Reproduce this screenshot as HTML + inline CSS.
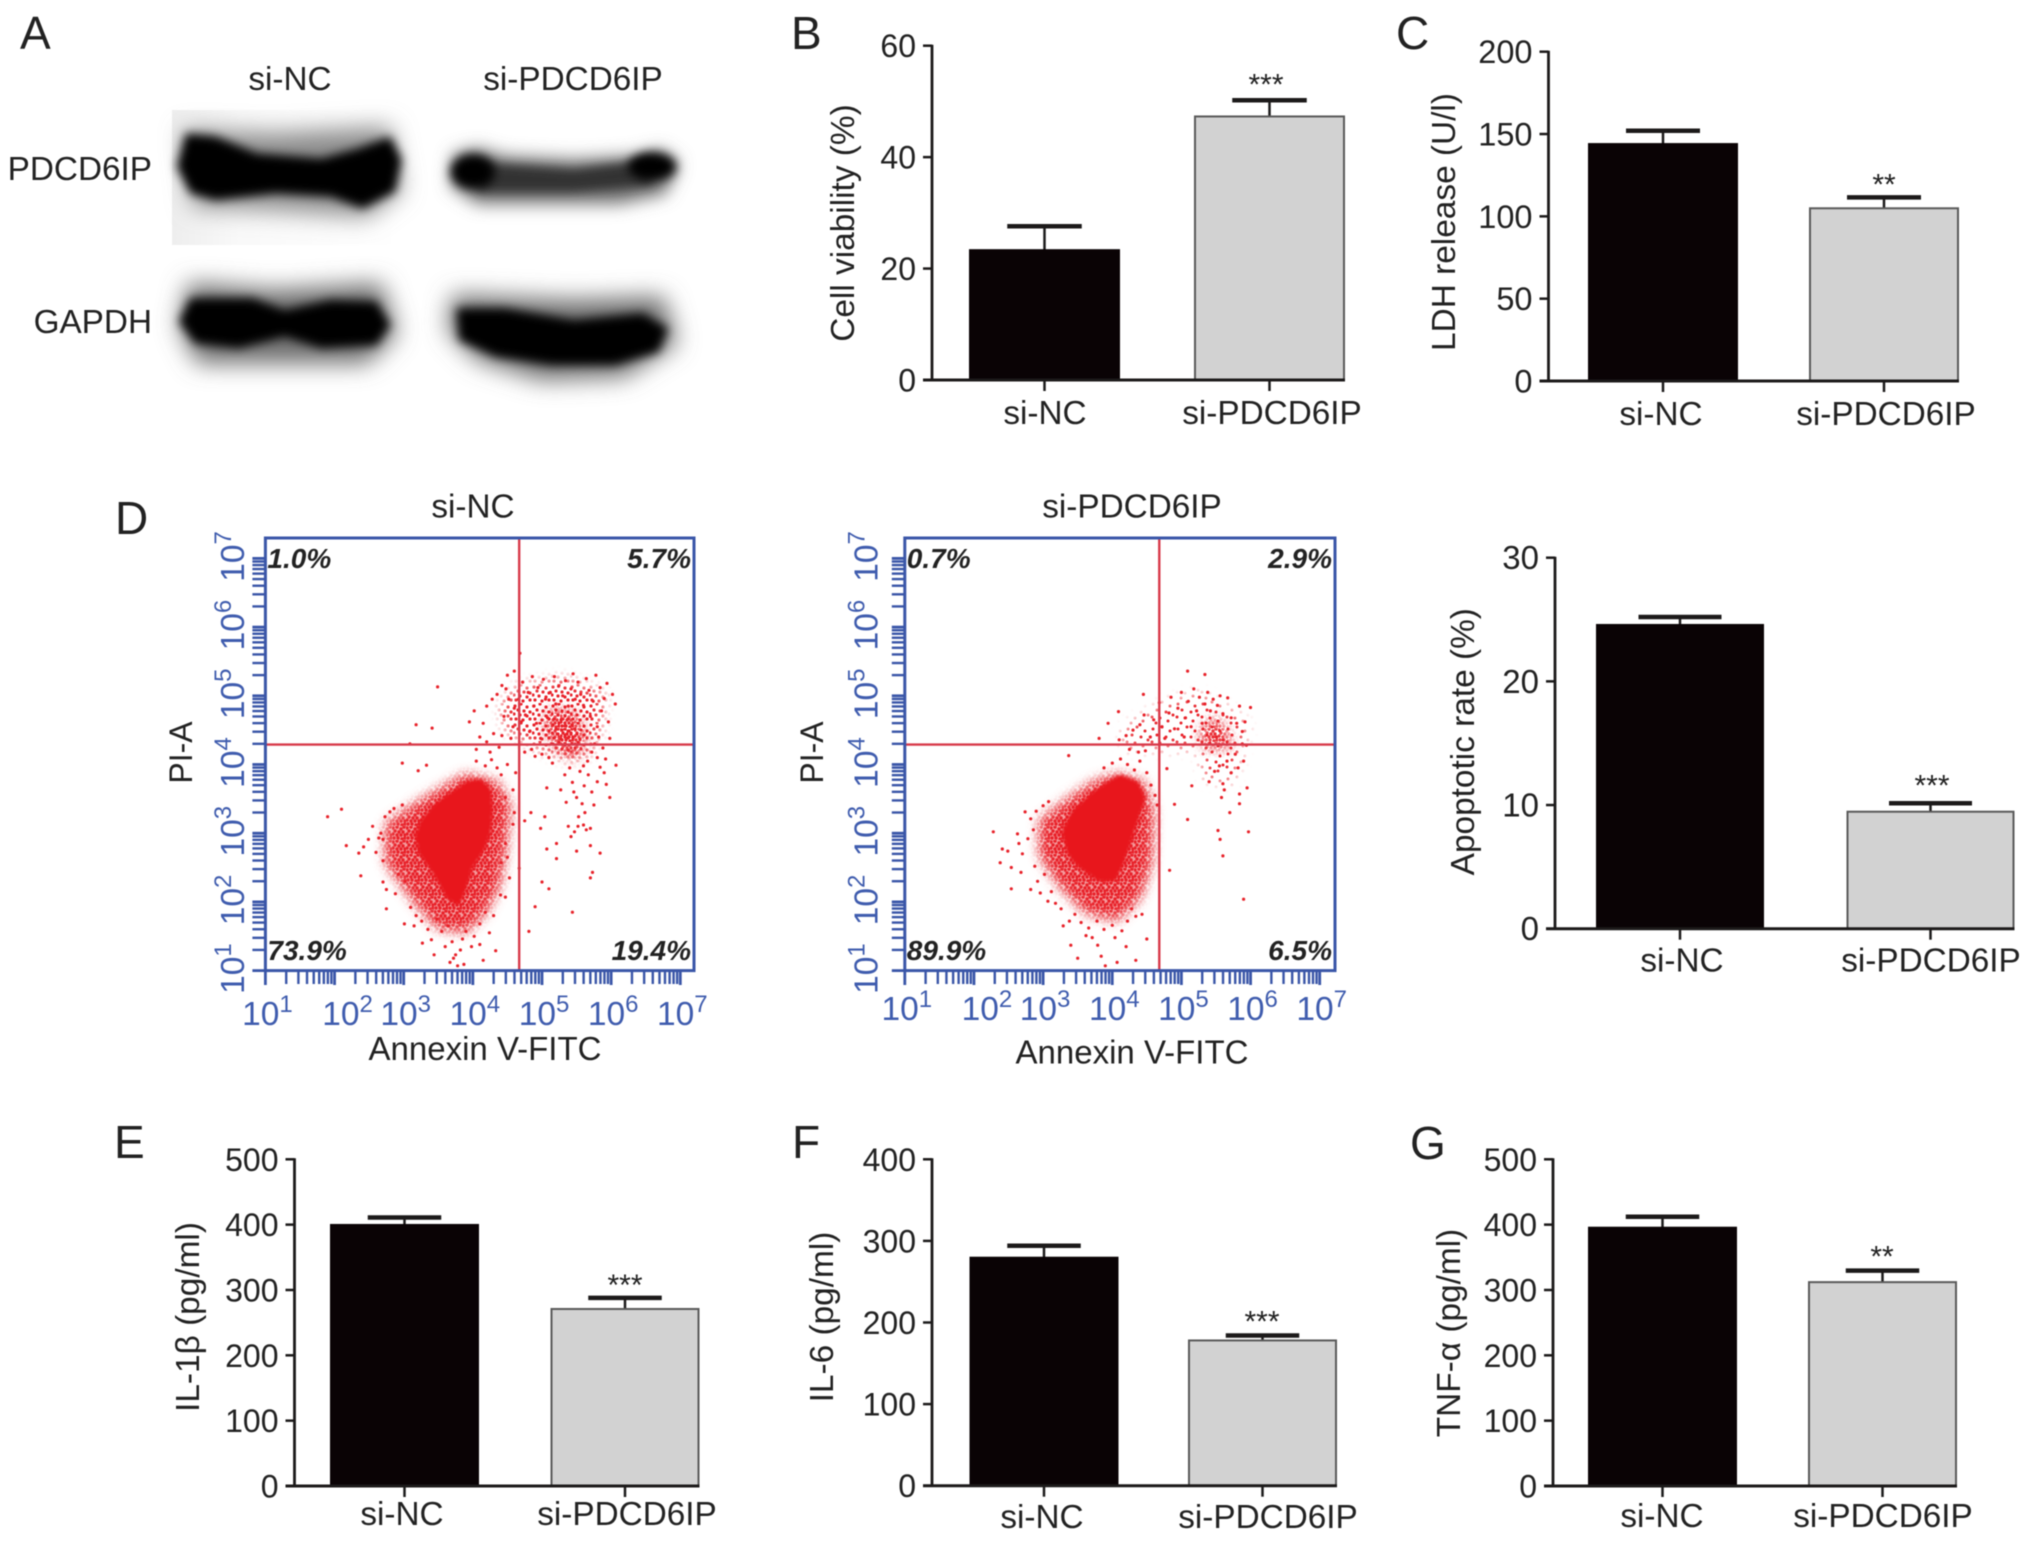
<!DOCTYPE html>
<html lang="en">
<head>
<meta charset="utf-8">
<title>PDCD6IP knockdown figure</title>
<style>
html,body{margin:0;padding:0;background:#fff;}
#figure{display:block;width:2032px;height:1543px;filter:blur(0.5px);}
text{font-family:"Liberation Sans",sans-serif;fill:#222;}
</style>
</head>
<body>
<svg id="figure" xmlns="http://www.w3.org/2000/svg" width="2032" height="1543" viewBox="0 0 2032 1543">
  <defs>
    <filter id="blur-s" x="-30%" y="-60%" width="160%" height="220%"><feGaussianBlur stdDeviation="11 15"/></filter>
    <filter id="blur-m" x="-30%" y="-60%" width="160%" height="220%"><feGaussianBlur stdDeviation="18 26"/></filter>
    <filter id="blur-l" x="-30%" y="-60%" width="160%" height="220%"><feGaussianBlur stdDeviation="26 36"/></filter>
    <filter id="soft-edge" x="-30%" y="-30%" width="160%" height="160%"><feGaussianBlur stdDeviation="6"/></filter>
    <filter id="soft-core" x="-20%" y="-20%" width="140%" height="140%"><feGaussianBlur stdDeviation="1.6"/></filter>
    <linearGradient id="membrane-fade" x1="0" x2="1" y1="0" y2="0">
      <stop offset="0" stop-color="#eeeeee"/>
      <stop offset="0.3" stop-color="#f9f9f9"/>
      <stop offset="1" stop-color="#ffffff"/>
    </linearGradient>
    <pattern id="dots-dense" width="14" height="14" patternUnits="userSpaceOnUse">
      <g fill="#e8222a">
        <circle cx="1" cy="2" r="1.7"/><circle cx="5" cy="1" r="1.7"/><circle cx="9" cy="3" r="1.7"/><circle cx="12" cy="1" r="1.7"/>
        <circle cx="3" cy="5" r="1.7"/><circle cx="7" cy="6" r="1.7"/><circle cx="11" cy="6" r="1.7"/><circle cx="1" cy="8" r="1.7"/>
        <circle cx="5" cy="9" r="1.7"/><circle cx="9" cy="9" r="1.7"/><circle cx="13" cy="9" r="1.7"/><circle cx="2" cy="12" r="1.7"/>
        <circle cx="6" cy="12" r="1.7"/><circle cx="10" cy="13" r="1.7"/><circle cx="13" cy="12" r="1.7"/>
      </g>
    </pattern>
    <pattern id="dots-medium" width="19" height="19" patternUnits="userSpaceOnUse">
      <g fill="#e8222a">
        <circle cx="2" cy="3" r="1.6"/><circle cx="8" cy="1" r="1.6"/><circle cx="14" cy="4" r="1.6"/><circle cx="5" cy="7" r="1.6"/>
        <circle cx="11" cy="8" r="1.6"/><circle cx="17" cy="9" r="1.6"/><circle cx="1" cy="11" r="1.6"/><circle cx="7" cy="12" r="1.6"/>
        <circle cx="14" cy="13" r="1.6"/><circle cx="3" cy="16" r="1.6"/><circle cx="10" cy="17" r="1.6"/><circle cx="17" cy="16" r="1.6"/>
      </g>
    </pattern>
    <pattern id="dots-sparse" width="25" height="25" patternUnits="userSpaceOnUse">
      <g fill="#e8222a">
        <circle cx="3" cy="4" r="1.5"/><circle cx="12" cy="2" r="1.5"/><circle cx="20" cy="6" r="1.5"/><circle cx="7" cy="10" r="1.5"/>
        <circle cx="16" cy="12" r="1.5"/><circle cx="23" cy="15" r="1.5"/><circle cx="2" cy="17" r="1.5"/><circle cx="10" cy="18" r="1.5"/>
        <circle cx="18" cy="21" r="1.5"/><circle cx="6" cy="23" r="1.5"/>
      </g>
    </pattern>
  </defs>
  <rect width="2032" height="1543" fill="#fff"/>

  <g>
    <text x="20" y="49" style="font-size:46px">A</text>
    <text x="791" y="49" style="font-size:46px">B</text>
    <text x="1396" y="49" style="font-size:46px">C</text>
    <text x="115" y="534" style="font-size:46px">D</text>
    <text x="114" y="1158" style="font-size:46px">E</text>
    <text x="792" y="1158" style="font-size:46px">F</text>
    <text x="1410" y="1159" style="font-size:46px">G</text>
  </g>

  <g>
    <text x="290" y="90" text-anchor="middle" font-size="33.3">si-NC</text>
    <text x="573" y="90" text-anchor="middle" font-size="33.3">si-PDCD6IP</text>
    <text x="152" y="180" text-anchor="end" font-size="33.3">PDCD6IP</text>
    <text x="152" y="333" text-anchor="end" font-size="33.3">GAPDH</text>
    <rect x="172" y="110" width="225" height="135" fill="url(#membrane-fade)"/>
    <g transform="scale(0.4591 0.3333)">
      <path filter="url(#blur-l)" fill="#8a8a8a" d="M400 390 L600 400 L850 380 L875 570 L800 650 L600 630 L420 620 Z"/>
      <path filter="url(#blur-s)" fill="#030102" d="M405 400 L470 410 L560 460 L700 475 L780 445 L850 410 L875 480 L860 575 L790 625 L720 590 L600 580 L470 600 L415 580 L385 500 Z"/>
      <path filter="url(#blur-m)" fill="#6a6a6a" d="M985 465 L1040 445 L1100 470 L1250 480 L1380 470 L1440 450 L1480 490 L1450 580 L1350 610 L1150 610 L1040 610 L980 555 Z"/>
      <path filter="url(#blur-s)" fill="#303030" d="M1040 490 L1250 510 L1420 480 L1420 555 L1250 575 L1040 575 Z"/>
      <ellipse cx="1030" cy="515" rx="48" ry="52" filter="url(#blur-s)" fill="#000"/>
      <ellipse cx="1420" cy="500" rx="52" ry="42" filter="url(#blur-s)" fill="#000"/>
      <path filter="url(#blur-l)" fill="#6c6c6c" d="M410 850 L600 870 L830 850 L865 1000 L800 1090 L600 1090 L430 1090 L390 980 Z"/>
      <path filter="url(#blur-s)" fill="#030102" d="M415 895 L550 895 L620 930 L720 900 L820 905 L850 975 L820 1035 L700 1045 L620 1010 L520 1045 L425 1030 L390 965 Z"/>
      <path filter="url(#blur-l)" fill="#6c6c6c" d="M985 885 L1250 900 L1445 890 L1475 1030 L1360 1130 L1180 1140 L1040 1080 L975 990 Z"/>
      <path filter="url(#blur-s)" fill="#030102" d="M995 925 L1100 925 L1250 960 L1400 940 L1455 985 L1435 1055 L1340 1095 L1200 1095 L1080 1070 L1000 1020 Z"/>
    </g>
  </g>
</svg>

<script>
// ---------- shared categories ----------
const barCategories = ['si-NC', 'si-PDCD6IP'];

// ---------- bar chart values ----------
const viabilityMeans = [23.3, 47.3];
const viabilityUppers = [27.6, 50.2];
const viabilityTicks = [0, 20, 40, 60];
const viabilityStars = ['', '***'];

const ldhMeans = [143.9, 104.9];
const ldhUppers = [152, 111.5];
const ldhTicks = [0, 50, 100, 150, 200];
const ldhStars = ['', '**'];

const apoptosisMeans = [24.56, 9.46];
const apoptosisUppers = [25.2, 10.14];
const apoptosisTicks = [0, 10, 20, 30];
const apoptosisStars = ['', '***'];

const il1bMeans = [399.5, 270.9];
const il1bUppers = [411, 288];
const il1bTicks = [0, 100, 200, 300, 400, 500];
const il1bStars = ['', '***'];

const il6Means = [279.4, 178];
const il6Uppers = [294, 184];
const il6Ticks = [0, 100, 200, 300, 400];
const il6Stars = ['', '***'];

const tnfMeans = [395.3, 312];
const tnfUppers = [412, 329.6];
const tnfTicks = [0, 100, 200, 300, 400, 500];
const tnfStars = ['', '**'];

// ---------- flow cytometry values (log10 decades: [Annexin V, PI]) ----------
const flowExponents = [1, 2, 3, 4, 5, 6, 7];
const gateNC = [4.67, 4.29];
const gateSi = [4.68, 4.29];
const quadrantsNC = ['1.0%', '5.7%', '73.9%', '19.4%'];
const quadrantsSi = ['0.7%', '2.9%', '89.9%', '6.5%'];

const coreNC = [[4.10,3.74],[4.21,3.63],[4.24,3.35],[4.21,3.02],[4.10,2.74],[3.95,2.52],[3.87,2.24],[3.78,2.01],[3.67,2.07],[3.55,2.29],[3.41,2.52],[3.27,2.71],[3.21,2.96],[3.30,3.18],[3.50,3.41],[3.73,3.57],[3.93,3.71]];
const haloNC = [[3.90,3.85],[4.35,3.74],[4.53,3.41],[4.47,2.79],[4.38,2.24],[4.18,1.85],[3.90,1.57],[3.50,1.62],[3.15,2.01],[2.75,2.57],[2.75,3.13],[3.15,3.41],[3.61,3.69]];
const upperNC = [[4.64,5.13],[5.33,5.25],[5.90,5.02],[5.84,4.52],[5.67,4.13],[5.33,4.08],[4.81,4.30],[4.47,4.52],[4.41,4.86]];
const upperDenseNC = [[5.10,4.80],[5.50,4.74],[5.64,4.35],[5.47,4.08],[5.21,4.24],[5.04,4.52]];

const dotsNC = [
[1.90,3.24],[2.10,3.35],[2.17,2.82],[2.38,2.38],[2.98,4.02],[3.18,4.58],[3.41,4.53],[3.49,5.13],[3.33,3.99],[3.21,3.91],[3.09,4.30],
[2.35,2.71],[2.49,2.91],[2.64,2.93],[2.70,2.91],[2.55,3.10],[2.73,3.24],[2.70,2.60],[2.70,2.29],[2.75,2.18],[2.75,1.90],[2.98,3.41],[3.01,1.68],[3.15,1.65],
[2.42,2.80],[2.60,2.72],[2.67,3.00],[2.80,3.31],[2.86,3.36],[2.92,2.40],[2.88,2.12],[3.02,2.30],[3.10,1.92],[3.18,1.80],[3.26,1.72],
[3.27,1.40],[3.44,1.23],[3.67,1.12],[3.75,1.23],[3.78,1.07],[3.87,1.09],[3.98,1.35],[4.15,1.15],[4.33,1.29],[3.55,1.57],[3.64,1.65],[3.90,1.57],[4.10,1.68],[4.18,1.85],
[3.40,1.45],[3.60,1.35],[3.70,1.42],[3.82,1.30],[3.72,1.18],[3.85,1.46],[4.02,1.50],[4.10,1.38],[4.24,1.55],[3.35,1.60],[3.48,1.75],[4.30,1.80],
[4.47,2.07],[4.53,2.35],[4.67,2.49],[4.41,2.57],[4.47,2.85],[4.58,3.13],[4.47,3.52],[4.58,3.63],[4.41,3.85],[4.27,4.07],[4.50,2.65],[4.60,3.30],[4.40,2.10],[4.35,3.95],[4.18,3.98],[4.05,4.05],[4.50,4.00],[4.62,3.88],
[4.81,1.57],[4.90,1.93],[5.00,2.29],[5.10,2.19],[5.44,1.85],[5.70,2.35],[5.73,2.43],[5.84,2.71],[5.07,2.77],[5.21,2.63],[5.50,2.74],[5.70,2.82],[5.38,3.10],[5.70,3.07],[5.47,3.02],[5.21,2.85],[4.98,3.07],[5.04,3.24],[4.84,3.30],[4.75,3.18],
[5.27,3.63],[5.50,3.52],[5.61,3.69],[5.75,3.41],[5.98,3.52],[5.93,3.71],[5.84,3.96],[6.07,3.99],[5.67,3.85],[5.44,3.74],[5.07,3.66],[5.53,3.24],[5.58,3.43],[5.33,3.85],[5.15,4.02],
[5.40,3.95],[5.55,3.90],[5.72,3.60],[5.62,3.30],[5.80,3.75],[5.90,3.88],[5.46,3.60],[5.35,3.45],[5.52,3.10],[5.60,3.12],[5.64,3.05],[5.42,2.95],
[4.05,4.22],[4.20,4.33],[4.30,4.45],[4.10,4.40],[4.25,4.18],[4.38,4.25],[3.95,4.62],[4.02,4.78],[4.15,4.60],[4.20,4.85],[4.28,4.95],[4.35,5.02],[4.42,5.15],[4.50,5.30],[4.60,5.36],[4.68,5.62],
[4.45,4.70],[4.52,4.95],[4.48,5.10],[4.58,4.55],[4.60,4.82],[4.66,4.95],[4.70,4.62],[4.72,5.20],[4.76,4.72],[4.80,5.05],[4.82,4.48],[4.86,5.28],[4.88,4.85],[4.92,4.60],[4.94,5.12],[4.98,4.38],
[5.02,5.24],[5.05,4.95],[5.08,4.68],[5.12,5.05],[5.14,4.30],[5.18,5.28],[5.20,4.88],[5.24,5.14],[5.28,4.66],[5.30,5.00],[5.34,5.22],[5.38,4.85],[5.42,5.10],[5.45,5.32],[5.48,4.95],[5.52,5.20],
[5.56,5.02],[5.60,4.86],[5.64,5.25],[5.68,5.08],[5.70,4.70],[5.74,4.92],[5.78,5.30],[5.80,4.55],[5.84,5.12],[5.86,4.78],[5.90,4.96],[5.94,5.18],[5.96,4.62],[6.02,5.02],[6.06,4.88],[5.98,4.38],
[5.76,4.30],[5.72,4.18],[5.80,4.10],[5.66,4.05],[5.60,3.98],[5.88,4.24],[5.82,4.40],[5.92,4.08],[4.90,4.12],[5.00,4.15],[5.10,4.10],[4.85,4.22],[4.75,4.18],[4.55,4.38],[4.42,4.42]
];

const coreSi = [[4.12,3.80],[4.34,3.71],[4.43,3.52],[4.34,3.24],[4.23,2.91],[4.12,2.57],[4.01,2.35],[3.82,2.35],[3.57,2.52],[3.40,2.71],[3.32,3.02],[3.46,3.30],[3.73,3.55],[3.96,3.71]];
const haloSi = [[4.07,3.85],[4.45,3.74],[4.59,3.30],[4.56,2.57],[4.40,2.07],[4.07,1.74],[3.62,1.85],[3.24,2.24],[2.96,2.68],[2.96,3.18],[3.40,3.52],[3.73,3.74]];
const upperSi = [[4.18,4.52],[4.73,4.86],[5.23,5.02],[5.67,4.80],[5.95,4.58],[5.84,4.13],[5.73,3.74],[5.34,3.80],[5.28,4.24],[4.62,4.24],[4.18,4.24]];
const upperDenseSi = [[5.26,4.47],[5.48,4.69],[5.64,4.52],[5.73,4.24],[5.34,4.24]];

const dotsSi = [
[2.28,3.02],[2.41,2.77],[2.49,2.74],[2.38,2.57],[2.54,2.50],[2.54,2.19],[2.63,2.99],[2.65,2.85],[2.74,3.31],[2.82,3.21],[2.68,2.43],[2.82,2.18],[2.96,2.13],[3.07,2.01],
[2.70,2.70],[2.78,2.92],[2.86,3.05],[2.90,3.32],[3.00,3.40],[3.08,3.46],[2.88,2.52],[2.92,2.30],[3.02,2.40],[3.12,2.15],[3.18,1.98],[3.26,1.90],
[3.29,1.65],[3.40,1.37],[3.50,1.18],[3.62,1.51],[3.71,1.48],[3.79,1.37],[3.84,1.21],[3.90,1.07],[4.07,1.12],[4.04,1.48],[4.20,1.35],[4.34,1.15],[4.50,1.46],[4.34,1.79],[4.43,1.82],
[3.38,1.72],[3.46,1.82],[3.55,1.70],[3.66,1.62],[3.78,1.72],[3.88,1.60],[4.00,1.66],[4.14,1.58],[4.22,1.72],[4.28,1.90],
[3.37,4.13],[3.81,4.38],[3.94,4.60],[4.09,4.77],[4.45,5.02],[5.09,5.36],[5.34,5.31],[4.79,3.94],[4.65,3.41],[4.90,3.42],[5.09,3.20],[4.83,2.46],[5.53,3.04],[5.56,2.91],[5.60,2.67],[5.97,3.02],[5.90,2.04],[5.15,3.69],[5.62,3.63],[5.84,3.57],[5.70,3.30],[5.84,3.43],[5.95,3.66],[6.00,4.83],[5.84,4.85],[5.67,4.97],
[5.58,3.52],[5.60,3.72],[5.40,3.75],[5.48,3.90],[5.55,3.98],[5.72,3.88],[5.82,3.95],[5.66,4.05],[5.90,4.05],[5.78,4.15],
[3.88,3.95],[4.00,4.02],[4.12,4.08],[4.22,4.00],[4.32,3.92],[4.40,4.05],[4.50,3.88],[4.56,3.70],[4.62,3.55],[4.25,4.22],[4.38,4.18],[4.48,4.20],
[4.10,4.36],[4.20,4.42],[4.30,4.50],[4.40,4.58],[4.46,4.72],[4.55,4.40],[4.60,4.65],[4.68,4.90],[4.72,4.55],[4.76,4.38],[4.82,4.75],[4.85,4.98],[4.90,4.52],[4.95,4.82],[5.00,5.05],[5.04,4.40],
[5.06,4.68],[5.10,4.92],[5.14,4.55],[5.18,5.10],[5.22,4.78],[5.26,4.98],[5.30,4.60],[5.34,4.88],[5.38,5.05],[5.42,4.78],[5.46,4.95],[5.52,4.86],[5.56,5.00],[5.60,4.74],[5.72,4.68],[5.80,4.60],[5.88,4.48],[5.92,4.62],[5.88,4.30],[5.94,4.28]
];

// ---------- drawing ----------
const svg = document.getElementById('figure');
const NS = 'http://www.w3.org/2000/svg';
let maskCounter = 0;

function make(tag, attrs, parent) {
  const el = document.createElementNS(NS, tag);
  for (const k in attrs) el.setAttribute(k, attrs[k]);
  parent.appendChild(el);
  return el;
}

function drawBarChart(frame, means, uppers, ticks, stars) {
  const INK = '#1c1a1a';
  const yMax = ticks[ticks.length - 1];
  const y = v => frame.zero - (v / yMax) * (frame.zero - frame.top);
  const x = i => (i === 0 ? frame.bar1 : frame.bar2);
  const g = make('g', {}, svg);
  
  

  barCategories.forEach((cat, i) => {
    const cx = x(i) + frame.barW / 2;
    const capW = frame.barW / 2;
    const stem = make('line', {x1: cx, x2: cx, y1: y(means[i]), y2: y(uppers[i]), stroke: INK, 'stroke-width': 2.5}, g);
    
    
    const cap = make('line', {x1: cx - capW / 2, x2: cx + capW / 2, y1: y(uppers[i]), y2: y(uppers[i]), stroke: INK, 'stroke-width': 4.5}, g);
    
    
    const bar = make('rect', {
      x: x(i), y: y(means[i]), width: frame.barW, height: frame.zero - y(means[i]),
      fill: i === 0 ? '#0a0305' : '#d2d2d2', stroke: i === 0 ? '#0a0305' : '#5a5a5a', 'stroke-width': 2
    }, g);
    
    
    const tick = make('line', {x1: cx, x2: cx, y1: frame.zero, y2: frame.zero + 11, stroke: INK, 'stroke-width': 2.5}, g);
    
    
    const label = make('text', {x: i === 0 ? frame.label1 : frame.label2, y: frame.labelBase, 'text-anchor': 'middle', 'font-size': 33.3}, g);
    label.textContent = cat;
    
    
    if (stars[i]) {
      const star = make('text', {x: frame.starX, y: y(uppers[i]) - frame.starGap + 14, 'text-anchor': 'middle', 'font-size': 30}, g);
      star.textContent = stars[i];
      
      
    }
  });

  const yAxis = make('line', {x1: frame.axisX, x2: frame.axisX, y1: frame.top - 1, y2: frame.zero + 1, stroke: INK, 'stroke-width': 2.8}, g);
  
  
  const xAxis = make('line', {x1: frame.axisX - 9, x2: frame.bar2 + frame.barW + 1, y1: frame.zero, y2: frame.zero, stroke: INK, 'stroke-width': 3}, g);
  
  

  ticks.forEach(t => {
    const tick = make('line', {x1: frame.axisX - 9, x2: frame.axisX, y1: y(t), y2: y(t), stroke: INK, 'stroke-width': 2.5}, g);
    
    
    const label = make('text', {x: frame.axisX - 16, y: y(t) + 11.5, 'text-anchor': 'end', 'font-size': frame.fs}, g);
    label.textContent = t;
    
    
  });

  const title = make('text', {
    transform: 'translate(' + frame.titleX + ' ' + frame.titleCy + ') rotate(-90)',
    'text-anchor': 'middle', 'font-size': 33.4
  }, g);
  title.textContent = frame.title;
  
  
}

function drawFlowPlot(frame, gate, core, halo, upper, upperDense, dots, quadrants) {
  const BLUE = '#3a56a8';
  const RED = '#d83a4a';
  const LABEL_BLUE = '#3f5cae';
  const x = d => frame.left + (d - 1) * 69.15;
  const y = d => 970.6 - (d - 1) * 68.7;
  const pts = list => list.map(p => x(p[0]).toFixed(1) + ',' + y(p[1]).toFixed(1)).join(' ');
  const g = make('g', {}, svg);
  
  

  function dottedPatch(hull, patternId, name) {
    maskCounter += 1;
    const maskId = 'patch-mask-' + maskCounter;
    const mask = make('mask', {id: maskId, maskUnits: 'userSpaceOnUse', x: frame.left, y: frame.top, width: frame.right - frame.left, height: 970.6 - frame.top}, g);
    
    
    const shape = make('polygon', {points: pts(hull), fill: '#fff', filter: 'url(#soft-edge)'}, mask);
    
    
    const patch = make('rect', {x: frame.left, y: frame.top, width: frame.right - frame.left, height: 970.6 - frame.top, fill: 'url(#' + patternId + ')', mask: 'url(#' + maskId + ')'}, g);
    
    
  }

  const haloWash = make('polygon', {points: pts(halo), fill: '#f49a9c', filter: 'url(#soft-edge)'}, g);
  
  
  dottedPatch(halo, 'dots-dense', 'scatter-lower-halo');
  dottedPatch(upper, frame.upperPattern, 'scatter-upper-halo');
  dottedPatch(upperDense, 'dots-dense', 'scatter-upper-dense');

  dots.forEach(p => {
    const dot = make('circle', {cx: x(p[0]).toFixed(1), cy: y(p[1]).toFixed(1), r: 1.6, fill: '#e8222a'}, g);
    
    
  });
  const coreShape = make('polygon', {points: pts(core), fill: '#e8171c', stroke: '#e8171c', 'stroke-width': 7, 'stroke-linejoin': 'round', filter: 'url(#soft-core)'}, g);
  
  

  const vGate = make('line', {x1: x(gate[0]), x2: x(gate[0]), y1: frame.top, y2: 970.6, stroke: RED, 'stroke-width': 2.4}, g);
  
  
  const hGate = make('line', {x1: frame.left, x2: frame.right, y1: y(gate[1]), y2: y(gate[1]), stroke: RED, 'stroke-width': 2.4}, g);
  
  

  const box = make('rect', {x: frame.left, y: frame.top, width: frame.right - frame.left, height: 970.6 - frame.top, fill: 'none', stroke: BLUE, 'stroke-width': 3}, g);
  
  

  flowExponents.forEach((e, idx) => {
    const majorX = make('line', {x1: x(e), x2: x(e), y1: 970.6, y2: 985, stroke: BLUE, 'stroke-width': 2.8}, g);
    
    
    const majorY = make('line', {x1: frame.left - 13, x2: frame.left, y1: y(e), y2: y(e), stroke: BLUE, 'stroke-width': 2.8}, g);
    
    
    if (idx < flowExponents.length - 1) {
      for (let n = 2; n < 10; n++) {
        const offset = Math.log10(n);
        const minorX = make('line', {x1: x(e + offset), x2: x(e + offset), y1: 970.6, y2: 984, stroke: BLUE, 'stroke-width': 2.4}, g);
        
        
        const minorY = make('line', {x1: frame.left - 13, x2: frame.left, y1: y(e + offset), y2: y(e + offset), stroke: BLUE, 'stroke-width': 2.4}, g);
        
        
      }
    }
    const xLabel = make('text', {x: x(e) + (e === 2 ? 13 : 2), y: frame.xTickBase, 'text-anchor': 'middle', 'font-size': 33.5, style: 'fill:' + LABEL_BLUE}, g);
    
    
    xLabel.textContent = '10';
    const xSup = make('tspan', {dy: -13, 'font-size': 24, style: 'fill:' + LABEL_BLUE}, xLabel);
    xSup.textContent = e;
    
    
    const yLabel = make('text', {transform: 'translate(' + frame.yTickBase + ' ' + (y(e) - 2) + ') rotate(-90)', 'text-anchor': 'middle', 'font-size': 33.5, style: 'fill:' + LABEL_BLUE}, g);
    
    
    yLabel.textContent = '10';
    const ySup = make('tspan', {dy: -13, 'font-size': 24, style: 'fill:' + LABEL_BLUE}, yLabel);
    ySup.textContent = e;
    
    
  });

  quadrants.forEach((q, i) => {
    const isRight = i % 2 === 1;
    const isBottom = i >= 2;
    const label = make('text', {
      x: isRight ? frame.right - 3 : frame.left + 2,
      y: isBottom ? 960 : 568,
      'text-anchor': isRight ? 'end' : 'start',
      'font-size': 28, 'font-weight': 'bold', 'font-style': 'italic'
    }, g);
    label.textContent = q;
    
    
  });

  const heading = make('text', {x: frame.headCx, y: 517.5, 'text-anchor': 'middle', 'font-size': 33.3}, g);
  heading.textContent = frame.head;
  
  
  const xTitle = make('text', {x: frame.xTitleCx, y: frame.xTitleBase, 'text-anchor': 'middle', 'font-size': 33}, g);
  xTitle.textContent = 'Annexin V-FITC';
  
  
  const yTitle = make('text', {transform: 'translate(' + frame.yTitleX + ' 752.5) rotate(-90)', 'text-anchor': 'middle', 'font-size': 32}, g);
  yTitle.textContent = 'PI-A';
  
  
}

drawBarChart({name: 'cell-viability-chart', title: 'Cell viability (%)', axisX: 932, top: 45.7, zero: 380, bar1: 970, bar2: 1195, barW: 149,
  label1: 1045, label2: 1272, labelBase: 424, titleX: 854, titleCy: 223, fs: 32, starX: 1266, starGap: 20}, viabilityMeans, viabilityUppers, viabilityTicks, viabilityStars);

drawBarChart({name: 'ldh-release-chart', title: 'LDH release (U/l)', axisX: 1548.5, top: 51.7, zero: 381, bar1: 1589, bar2: 1810, barW: 148,
  label1: 1661, label2: 1886, labelBase: 425, titleX: 1455, titleCy: 222, fs: 32.5, starX: 1884, starGap: 17}, ldhMeans, ldhUppers, ldhTicks, ldhStars);

drawFlowPlot({name: 'flow-plot-si-nc', head: 'si-NC', left: 265.4, right: 694, top: 538, upperPattern: 'dots-medium', headCx: 473, xTitleCx: 485, xTitleBase: 1060, yTitleX: 192, xTickBase: 1025, yTickBase: 244}, gateNC, coreNC, haloNC, upperNC, upperDenseNC, dotsNC, quadrantsNC);

drawFlowPlot({name: 'flow-plot-si-pdcd6ip', head: 'si-PDCD6IP', left: 904.8, right: 1335, top: 538, upperPattern: 'dots-sparse', headCx: 1132, xTitleCx: 1132, xTitleBase: 1063.6, yTitleX: 823, xTickBase: 1020, yTickBase: 877.6}, gateSi, coreSi, haloSi, upperSi, upperDenseSi, dotsSi, quadrantsSi);

drawBarChart({name: 'apoptotic-rate-chart', title: 'Apoptotic rate (%)', axisX: 1555, top: 557.7, zero: 928.7, bar1: 1597, bar2: 1847.5, barW: 166,
  label1: 1682, label2: 1931, labelBase: 971.7, titleX: 1474, titleCy: 741.7, fs: 33, starX: 1932, starGap: 22}, apoptosisMeans, apoptosisUppers, apoptosisTicks, apoptosisStars);

drawBarChart({name: 'il-1b-chart', title: 'IL-1\u03B2 (pg/ml)', axisX: 294.5, top: 1159.3, zero: 1486, bar1: 331, bar2: 551.5, barW: 147,
  label1: 402, label2: 627, labelBase: 1525, titleX: 199, titleCy: 1317, fs: 32, starX: 625, starGap: 17}, il1bMeans, il1bUppers, il1bTicks, il1bStars);

drawBarChart({name: 'il-6-chart', title: 'IL-6 (pg/ml)', axisX: 932, top: 1159.3, zero: 1485.7, bar1: 970.5, bar2: 1189, barW: 147,
  label1: 1042, label2: 1268, labelBase: 1528, titleX: 833, titleCy: 1317, fs: 32, starX: 1262, starGap: 18}, il6Means, il6Uppers, il6Ticks, il6Stars);

drawBarChart({name: 'tnf-alpha-chart', title: 'TNF-\u03B1 (pg/ml)', axisX: 1553, top: 1159.3, zero: 1486, bar1: 1589, bar2: 1809, barW: 147,
  label1: 1662, label2: 1883, labelBase: 1527, titleX: 1460, titleCy: 1333, fs: 32, starX: 1882, starGap: 18}, tnfMeans, tnfUppers, tnfTicks, tnfStars);
</script>
</body>
</html>
